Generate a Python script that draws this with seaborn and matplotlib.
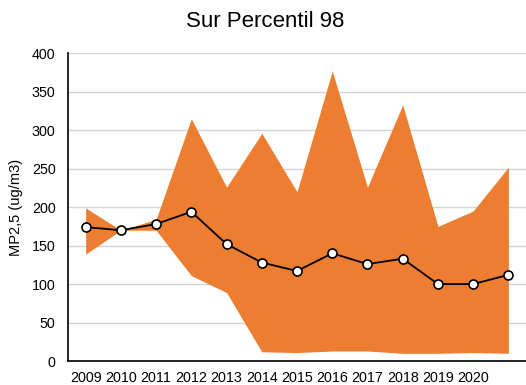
import matplotlib
matplotlib.use("Agg")
import matplotlib.pyplot as plt
import seaborn as sns
import pandas as pd
import numpy as np

# Annual PM2.5 98th percentile, Sur station
years = ["2009", "2010", "2011", "2012", "2013", "2014", "2015",
         "2016", "2017", "2018", "2019", "2020", "2021"]
tick_labels = ["2009", "2010", "2011", "2012", "2013", "2014", "2015",
               "2016", "2017", "2018", "2019", "2020", ""]
p98 = [174, 170, 178, 194, 152, 128, 117, 140, 126, 133, 100, 100, 112]
band_max = [199, 170, 184, 315, 226, 296, 220, 377, 226, 333, 175, 195, 252]
band_min = [139, 170, 170, 111, 89, 12, 11, 13, 13, 10, 10, 11, 10]

sns.set_theme(style="white")
plt.rcParams["font.family"] = ["Liberation Sans", "DejaVu Sans"]

df = pd.DataFrame({"year": years, "pos": np.arange(len(years)), "p98": p98,
                   "lo": band_min, "hi": band_max})

fig = plt.figure(figsize=(5.26, 3.85), dpi=100)
ax = fig.add_axes([0.1293, 0.0623, 0.8707, 0.7993])

orange = "#ED7D31"
ax.fill_between(df["pos"], df["lo"], df["hi"], color=orange, linewidth=0, zorder=2)
sns.lineplot(data=df, x="pos", y="p98", ax=ax, color="black", linewidth=1.3,
             marker="o", markersize=6.5, markerfacecolor="white",
             markeredgecolor="black", markeredgewidth=1.2, zorder=3)

ax.set_xlim(-0.5, len(years) - 0.5)
ax.set_ylim(0, 400)
ax.set_yticks(range(0, 401, 50))
ax.yaxis.grid(True, color="#d4d4d4", linewidth=1.0, zorder=0)
ax.set_axisbelow(True)

# category boundaries carry the tick marks, centres carry the labels
ax.set_xticks(np.arange(-0.5, len(years)), labels=[""] * (len(years) + 1))
ax.set_xticks(df["pos"], labels=tick_labels, minor=True)
ax.tick_params(axis="x", which="major", length=4, width=1, color="black", direction="out")
ax.tick_params(axis="x", which="minor", length=0, pad=7, labelsize=10.3, labelcolor="black")
ax.tick_params(axis="y", length=0, pad=9, labelsize=10.3, labelcolor="black")

for side in ("top", "right"):
    ax.spines[side].set_visible(False)
for side in ("left", "bottom"):
    ax.spines[side].set_color("black")
    ax.spines[side].set_linewidth(1.2)

ax.set_xlabel("")
ax.set_ylabel("MP2,5 (ug/m3)", fontsize=10.5, color="black", labelpad=6)
fig.text(0.505, 0.945, "Sur Percentil 98", ha="center", va="center",
         fontsize=16, color="black")

fig.savefig("out.png", dpi=100)
